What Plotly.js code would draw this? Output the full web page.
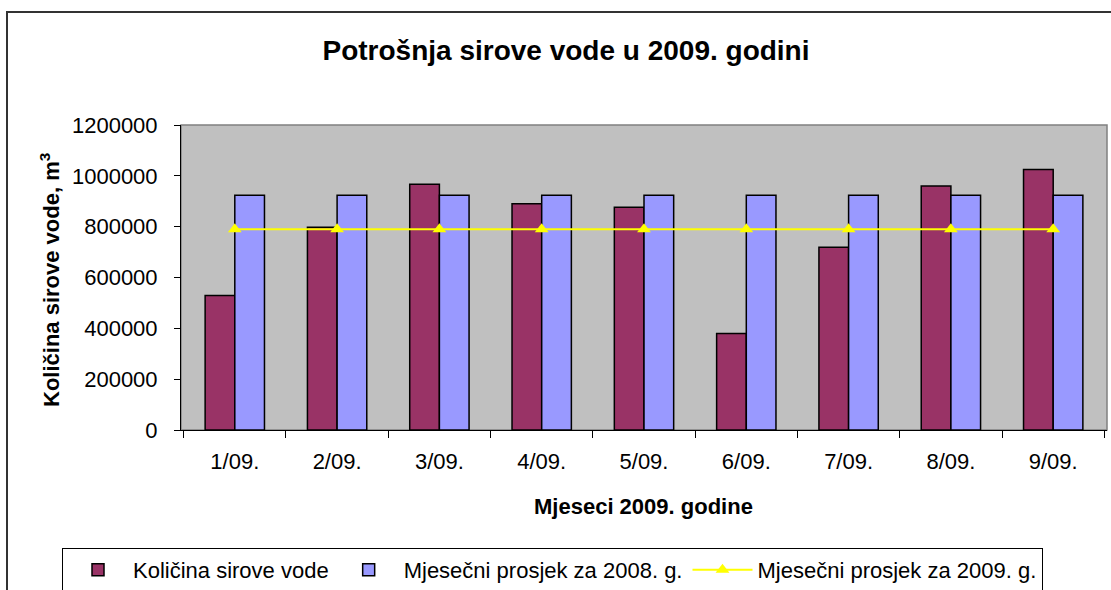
<!DOCTYPE html>
<html>
<head>
<meta charset="utf-8">
<script src="https://cdn.plot.ly/plotly-3.0.1.min.js"></script>
<style>html,body{margin:0;padding:0;background:#fff;}#chart{width:1111px;height:590px;}</style>
</head>
<body>
<div id="chart"></div>
<script>
const categories = ["1/09.", "2/09.", "3/09.", "4/09.", "5/09.", "6/09.", "7/09.", "8/09.", "9/09."];
const kolicina = [529000, 798000, 967000, 890000, 876000, 380000, 719000, 960000, 1025000];
const prosjek2008 = [924000, 924000, 924000, 924000, 924000, 924000, 924000, 924000, 924000];
const prosjek2009 = [790000, 790000, 790000, 790000, 790000, 790000, 790000, 790000, 790000];
const seriesNames = ["Količina sirove vode", "Mjesečni prosjek za 2008. g.", "Mjesečni prosjek za 2009. g."];
const yTicks = [0, 200000, 400000, 600000, 800000, 1000000, 1200000];

const F = "Arial, 'Liberation Sans', sans-serif";

const traces = [
  {type: "bar", x: categories, y: kolicina, name: seriesNames[0],
   marker: {color: "#993366", line: {color: "#000", width: 1.5}}},
  {type: "bar", x: categories, y: prosjek2008, name: seriesNames[1],
   marker: {color: "#9999FF", line: {color: "#000", width: 1.5}}},
  {type: "scatter", mode: "lines+markers", x: categories, y: prosjek2009, name: seriesNames[2],
   line: {color: "#FFFF00", width: 2},
   marker: {symbol: "triangle-up", size: 12, color: "#FFFF00"}}
];

const L = 181, R = 4, T = 125, B = 160;
const W = 1111 - L - R, H = 590 - T - B;
const px = v => (v - L) / W;
const py = v => (590 - B - v) / H;

const layout = {
  width: 1111, height: 590,
  margin: {l: L, r: R, t: T, b: B, pad: 0, autoexpand: false},
  paper_bgcolor: "#fff", plot_bgcolor: "#C0C0C0",
  font: {family: F, size: 22, color: "#000"},
  title: {text: "<b>Potrošnja sirove vode u 2009. godini</b>", font: {family: F, size: 28, color: "#000"},
          x: 566/1111, xanchor: "center", y: 1 - 50/590, yanchor: "middle", xref: "container", yref: "container"},
  barmode: "group", bargap: 0.42, bargroupgap: 0,
  showlegend: true,
  legend: {orientation: "h", x: px(62), xanchor: "left", y: py(548), yanchor: "top",
           bordercolor: "#000", borderwidth: 1, bgcolor: "#fff", itemwidth: 60,
           font: {family: F, size: 22, color: "#000"}, traceorder: "normal"},
  xaxis: {type: "category", tickvals: categories, ticktext: categories, showgrid: false,
          showline: true, linecolor: "#000", linewidth: 1, ticks: "outside", tickson: "boundaries",
          ticklen: 7, tickcolor: "#000", tickfont: {family: F, size: 22}, ticklabelstandoff: 12,
          zeroline: false, fixedrange: true},
  yaxis: {range: [0, 1200000], tickvals: yTicks, ticktext: yTicks.map(String), showgrid: false,
          showline: true, linecolor: "#000", linewidth: 1, ticks: "outside", ticklen: 6, tickcolor: "#000",
          tickfont: {family: F, size: 22}, ticklabelstandoff: 12, zeroline: false, fixedrange: true},
  shapes: [
    {type: "rect", xref: "paper", yref: "paper", x0: 0, x1: 1, y0: 0, y1: 1,
     line: {color: "#808080", width: 1.5}, fillcolor: "rgba(0,0,0,0)", layer: "below"},
    {type: "rect", xref: "paper", yref: "paper", x0: px(7), x1: px(1120), y0: py(12), y1: py(600),
     line: {color: "#333", width: 2}, fillcolor: "rgba(0,0,0,0)", layer: "below"}
  ],
  annotations: [
    {text: "<b>Mjeseci 2009. godine</b>", xref: "paper", yref: "paper", x: px(643), y: py(506),
     xanchor: "center", yanchor: "middle", showarrow: false, font: {family: F, size: 22, color: "#000"}},
    {text: "<b>Količina sirove vode, m<sup>3</sup></b>", xref: "paper", yref: "paper", x: px(50), y: py(280),
     xanchor: "center", yanchor: "middle", textangle: -90, showarrow: false, font: {family: F, size: 22, color: "#000"}}
  ]
};

Plotly.newPlot("chart", traces, layout, {displayModeBar: false, staticPlot: true});
</script>
</body>
</html>
